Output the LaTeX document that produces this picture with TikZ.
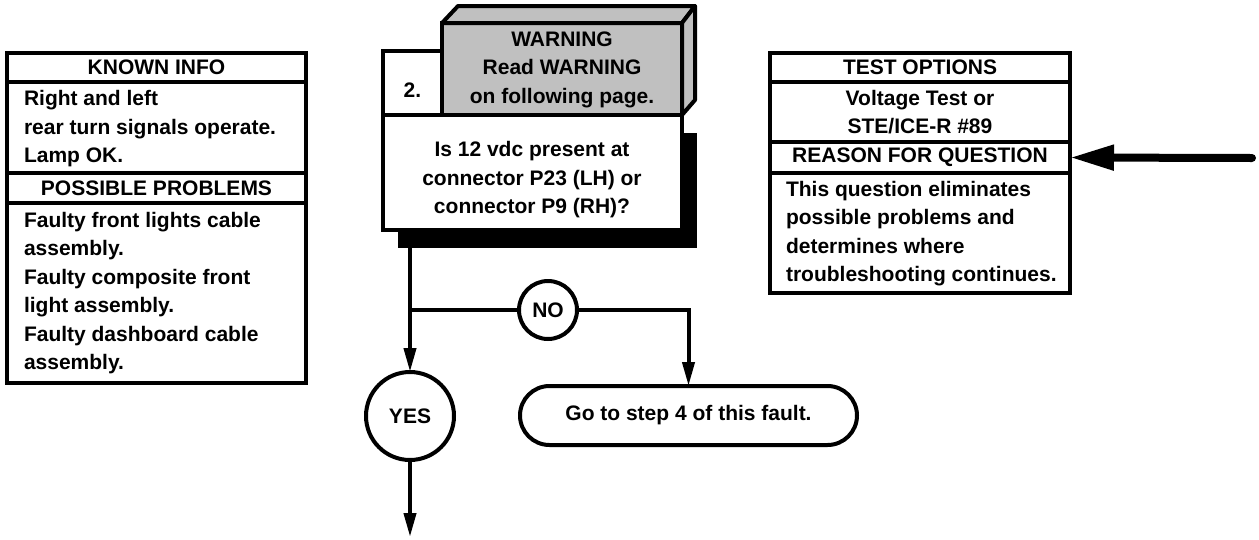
\documentclass[tikz,border=0pt]{standalone}
\usepackage{fontspec}
\setmainfont{Liberation Sans}
\usetikzlibrary{arrows.meta,shapes.misc}
\definecolor{warngray}{RGB}{192,192,192}
\tikzset{
  txt/.style={font=\bfseries\fontsize{21}{28.5}\selectfont, inner sep=0pt, outer sep=0pt},
  cell/.style={draw, line width=4pt, anchor=north west, inner sep=0pt, outer sep=0pt, txt},
  lnk/.style={line width=4pt},
  flow/.style={line width=4pt, -{Triangle[length=24pt,width=12pt]}},
  bigarrow/.style={line width=8pt, line cap=round, -{Triangle[length=44pt,width=24pt]}},
  decision/.style={draw, circle, line width=4pt, fill=white, txt},
}
\begin{document}
\begin{tikzpicture}[x=1pt,y=-1pt]
\useasboundingbox (0,0) rectangle (1259,539);
% ---------- left column ----------
\node[cell, minimum width=299pt, minimum height=29pt] (kh) at (7,53) {KNOWN INFO};
\node[cell, minimum width=299pt, minimum height=91pt] (kb) at (7,82) {};
\node[cell, minimum width=299pt, minimum height=30pt] (ph) at (7,173) {POSSIBLE PROBLEMS};
\node[cell, minimum width=299pt, minimum height=180pt] (pb) at (7,203) {};
\node[txt, anchor=west, align=left] (kbt) at (24,129) {Right and left\\rear turn signals operate.\\Lamp OK.};
\node[txt, anchor=west, align=left] (pbt) at (24,293) {Faulty front lights cable\\assembly.\\Faulty composite front\\light assembly.\\Faulty dashboard cable\\assembly.};
% ---------- right column ----------
\node[cell, minimum width=300pt, minimum height=29pt] (th) at (770,53) {TEST OPTIONS};
\node[cell, minimum width=300pt, minimum height=60pt, align=center] (tb) at (770,82) {Voltage Test or\\STE/ICE-R \#89};
\node[cell, minimum width=300pt, minimum height=31pt] (rh) at (770,142) {REASON FOR QUESTION};
\node[cell, minimum width=300pt, minimum height=120pt] (rb) at (770,173) {};
\node[txt, anchor=west, align=left] (rbt) at (786,233.5) {This question eliminates\\possible problems and\\determines where\\troubleshooting continues.};
% ---------- step box ----------
\node[fill=black, minimum width=299pt, minimum height=115pt, anchor=north west, inner sep=0pt, outer sep=0pt] (qs) at (398,133) {};
\node[cell, fill=white, minimum width=299pt, minimum height=115pt] (q) at (383,115) {};
\node[txt, align=center] (qt) at (532,180) {Is 12 vdc present at\\connector P23 (LH) or\\connector P9 (RH)?};
\node[cell, fill=white, minimum width=59pt, minimum height=64pt] (num) at (383,51) {};
\node[txt] (numt) at (412.5,90) {2.};
\node[cell, fill=warngray, minimum width=240pt, minimum height=92pt] (wf) at (442,23) {};
\draw[lnk, fill=warngray, line join=round] (wf.north west) -- (458,6) -- (695,6) -- (wf.north east) -- cycle;
\draw[lnk, fill=warngray, line join=round] (wf.north east) -- (695,6) -- (695,100) -- (wf.south east) -- cycle;
\node[txt, align=center] (wt) at (562,69.5) {WARNING\\Read WARNING\\on following page.};
% ---------- decisions ----------
\node[decision, minimum size=58pt] (no) at (548,310) {NO};
\node[decision, minimum size=88pt] (yes) at (410,416) {YES};
\node[draw, rounded rectangle, line width=4pt, minimum width=337pt, minimum height=59pt, txt] (go) at (688.5,415.5) {Go to step 4 of this fault.};
\coordinate (j) at (410,310);
\coordinate (end) at (410,537);
\coordinate (a0) at (1252,158);
% ---------- connectors ----------
\draw[flow] (q.south -| yes.north) -- (yes.north);
\draw[lnk] (j) -- (no.west);
\draw[flow] (no.east) -| (go.north);
\draw[flow] (yes.south) -- (end);
\draw[bigarrow] (a0) -- (rh.east);
\end{tikzpicture}
\end{document}
